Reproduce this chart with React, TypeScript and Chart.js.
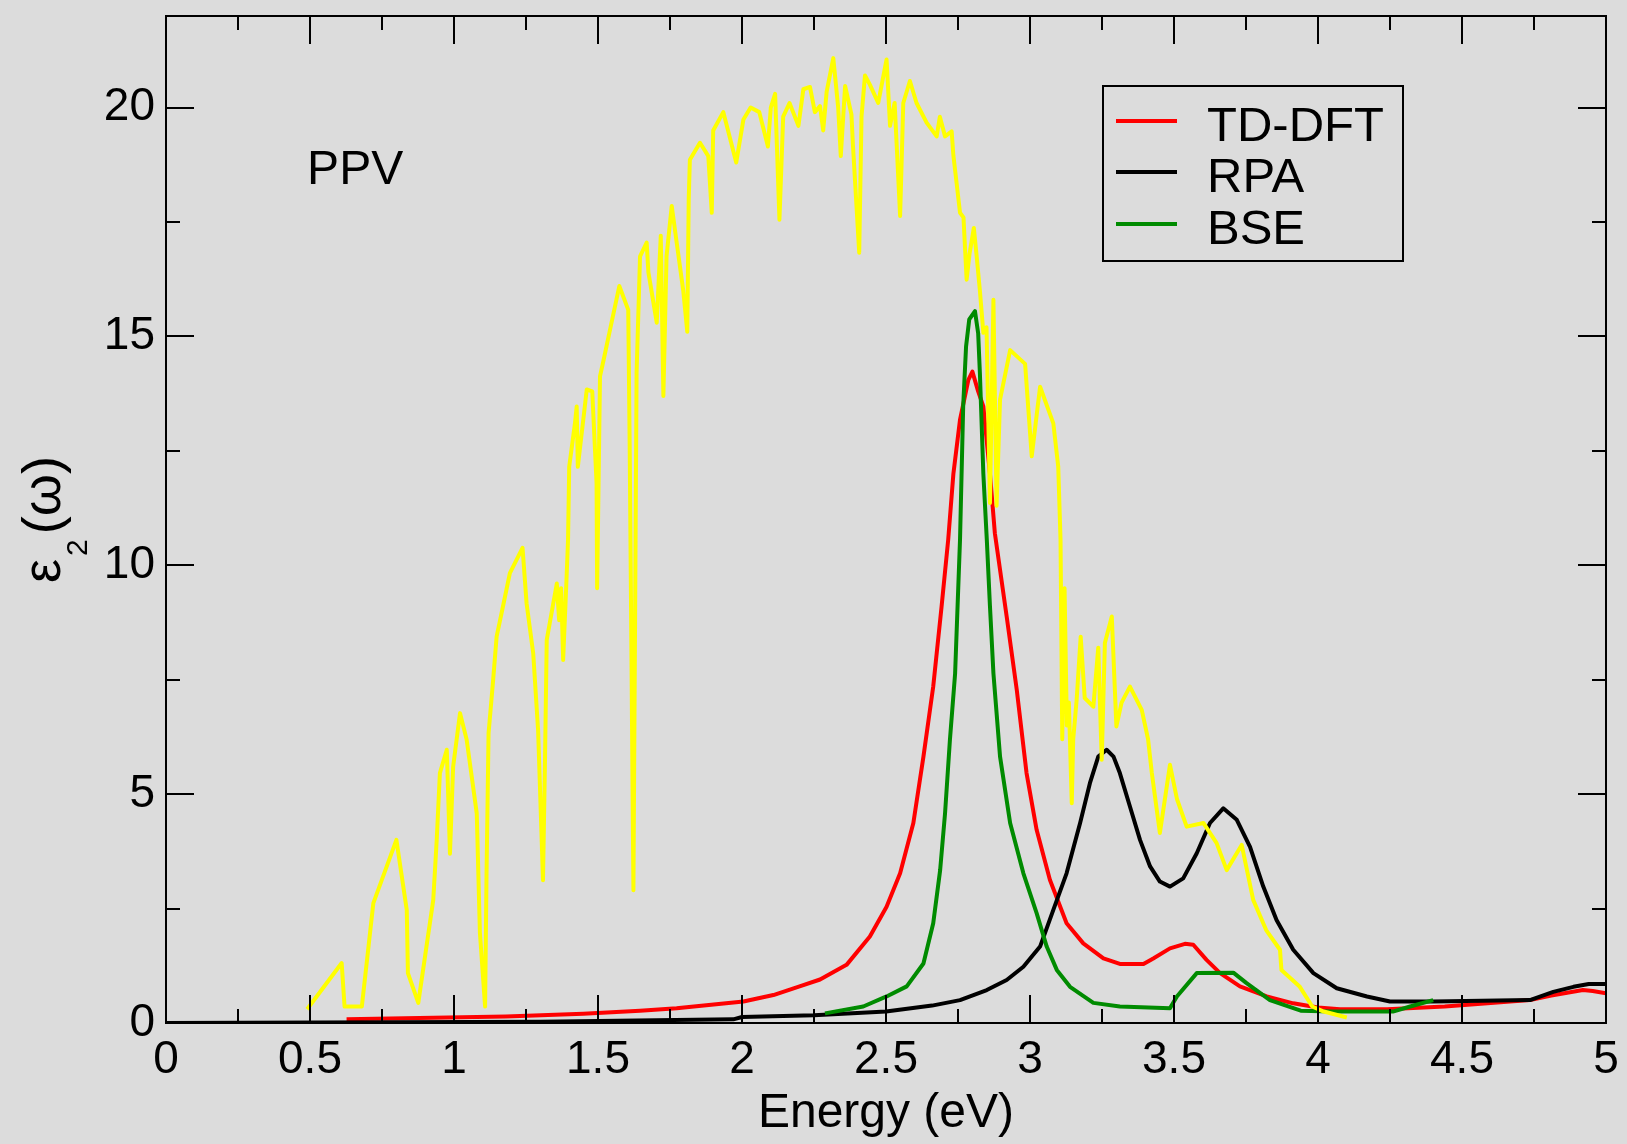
import React, { useEffect, useRef } from 'react';
import { Chart, registerables } from 'chart.js';

Chart.register(...registerables);

// ---------- tick definitions ----------
const xTickValues = [0, 0.5, 1, 1.5, 2, 2.5, 3, 3.5, 4, 4.5, 5];
const xTickLabels = ['0', '0.5', '1', '1.5', '2', '2.5', '3', '3.5', '4', '4.5', '5'];
const xMinorTicks = [0.25, 0.75, 1.25, 1.75, 2.25, 2.75, 3.25, 3.75, 4.25, 4.75];
const yTickValues = [0, 5, 10, 15, 20];
const yTickLabels = ['0', '5', '10', '15', '20'];
const yMinorTicks = [2.5, 7.5, 12.5, 17.5];

// ---------- series names ----------
const seriesNames = ['TD-DFT', 'RPA', 'BSE'];
const chartLabel = 'PPV';
const xTitle = 'Energy (eV)';

// ---------- TD-DFT (red) ----------
const tddftE = [0.627, 1.18, 1.449, 1.646, 1.773, 2.005, 2.109, 2.2, 2.271, 2.363, 2.444, 2.502, 2.549, 2.595, 2.63, 2.664, 2.693, 2.716, 2.734, 2.757, 2.786, 2.8, 2.82, 2.838, 2.861, 2.878, 2.919, 2.954, 2.988, 3.023, 3.069, 3.127, 3.185, 3.255, 3.312, 3.394, 3.428, 3.486, 3.538, 3.567, 3.613, 3.66, 3.729, 3.822, 3.914, 4.0, 4.076, 4.24, 4.44, 4.52, 4.736, 4.81, 4.92, 4.954, 5.0];
const tddftEps = [0.08, 0.14, 0.2, 0.27, 0.32, 0.47, 0.61, 0.8, 0.95, 1.27, 1.89, 2.54, 3.27, 4.37, 5.82, 7.35, 9.1, 10.56, 12.0, 13.18, 14.05, 14.23, 13.8, 13.47, 12.0, 10.7, 8.88, 7.28, 5.46, 4.22, 3.13, 2.18, 1.74, 1.41, 1.29, 1.29, 1.41, 1.63, 1.73, 1.71, 1.38, 1.09, 0.8, 0.58, 0.43, 0.34, 0.3, 0.3, 0.36, 0.4, 0.5, 0.6, 0.72, 0.7, 0.65];

// ---------- RPA (black) ----------
const rpaE = [0, 1.3, 1.97, 2.0, 2.25, 2.5, 2.66, 2.757, 2.85, 2.919, 2.977, 3.035, 3.081, 3.127, 3.174, 3.208, 3.237, 3.266, 3.29, 3.312, 3.347, 3.382, 3.417, 3.451, 3.486, 3.532, 3.579, 3.625, 3.671, 3.718, 3.764, 3.81, 3.856, 3.914, 3.984, 4.065, 4.17, 4.25, 4.4, 4.736, 4.817, 4.887, 4.94, 5.0];
const rpaEps = [0, 0.03, 0.08, 0.13, 0.17, 0.25, 0.38, 0.5, 0.72, 0.94, 1.23, 1.67, 2.47, 3.27, 4.37, 5.24, 5.82, 5.97, 5.82, 5.46, 4.73, 4.0, 3.42, 3.09, 2.98, 3.16, 3.71, 4.37, 4.69, 4.44, 3.85, 2.98, 2.25, 1.6, 1.09, 0.76, 0.58, 0.47, 0.47, 0.5, 0.68, 0.79, 0.85, 0.85];

// ---------- BSE (green) ----------
const bseE = [2.288, 2.421, 2.502, 2.572, 2.63, 2.664, 2.688, 2.705, 2.722, 2.74, 2.757, 2.768, 2.778, 2.789, 2.809, 2.82, 2.826, 2.838, 2.85, 2.861, 2.873, 2.896, 2.931, 2.977, 3.023, 3.058, 3.093, 3.139, 3.22, 3.312, 3.486, 3.51, 3.579, 3.706, 3.752, 3.833, 3.94, 4.05, 4.26, 4.32, 4.4];
const bseEps = [0.21, 0.36, 0.58, 0.8, 1.3, 2.18, 3.34, 4.58, 6.19, 7.64, 10.56, 13.47, 14.78, 15.37, 15.55, 15.07, 14.2, 12.0, 10.56, 9.1, 7.64, 5.82, 4.37, 3.27, 2.4, 1.67, 1.16, 0.79, 0.44, 0.36, 0.32, 0.58, 1.09, 1.1, 0.87, 0.5, 0.27, 0.25, 0.25, 0.36, 0.5];

// ---------- unlabeled yellow spectrum ----------
const yellowE = [0.49, 0.61, 0.62, 0.68, 0.72, 0.8, 0.836, 0.84, 0.876, 0.928, 0.94, 0.951, 0.975, 0.986, 0.997, 1.021, 1.044, 1.079, 1.09, 1.108, 1.113, 1.12, 1.136, 1.148, 1.17, 1.194, 1.238, 1.252, 1.275, 1.292, 1.309, 1.316, 1.322, 1.357, 1.365, 1.372, 1.379, 1.391, 1.396, 1.4, 1.42, 1.426, 1.43, 1.461, 1.48, 1.495, 1.497, 1.507, 1.52, 1.547, 1.574, 1.605, 1.61, 1.623, 1.634, 1.646, 1.669, 1.675, 1.704, 1.718, 1.727, 1.738, 1.756, 1.77, 1.796, 1.81, 1.815, 1.819, 1.854, 1.883, 1.895, 1.9, 1.935, 1.98, 2.005, 2.03, 2.06, 2.09, 2.1, 2.115, 2.13, 2.143, 2.165, 2.196, 2.213, 2.236, 2.253, 2.271, 2.282, 2.294, 2.317, 2.334, 2.343, 2.358, 2.38, 2.385, 2.407, 2.415, 2.427, 2.444, 2.473, 2.502, 2.514, 2.53, 2.549, 2.56, 2.583, 2.606, 2.641, 2.676, 2.687, 2.705, 2.728, 2.734, 2.745, 2.757, 2.769, 2.78, 2.79, 2.805, 2.814, 2.826, 2.838, 2.849, 2.861, 2.873, 2.884, 2.896, 2.931, 2.983, 3.006, 3.035, 3.081, 3.098, 3.106, 3.112, 3.12, 3.128, 3.135, 3.145, 3.15, 3.162, 3.176, 3.19, 3.22, 3.237, 3.249, 3.26, 3.284, 3.3, 3.318, 3.347, 3.388, 3.41, 3.423, 3.451, 3.486, 3.51, 3.544, 3.602, 3.648, 3.683, 3.735, 3.775, 3.82, 3.868, 3.873, 3.937, 3.98, 4.02, 4.1];
const yellowEps = [0.3, 1.31, 0.36, 0.36, 2.62, 4.0, 2.47, 1.09, 0.44, 2.69, 4.0, 5.46, 5.97, 3.7, 5.6, 6.77, 6.19, 4.58, 1.97, 0.36, 3.27, 6.33, 7.5, 8.44, 9.1, 9.83, 10.38, 9.17, 8.08, 6.4, 3.12, 5.75, 8.37, 9.6, 8.8, 9.5, 7.93, 9.75, 10.56, 12.15, 13.1, 13.47, 12.15, 13.84, 13.8, 11.8, 9.5, 14.13, 14.5, 15.3, 16.1, 15.58, 12.6, 2.9, 14.2, 16.75, 17.05, 16.4, 15.3, 17.2, 13.7, 16.75, 17.85, 17.2, 16.0, 15.1, 18.0, 18.86, 19.23, 18.94, 17.7, 19.5, 19.9, 18.8, 19.74, 20.0, 19.9, 19.15, 20.0, 20.3, 17.55, 19.8, 20.1, 19.6, 20.4, 20.45, 19.9, 20.03, 19.5, 20.35, 21.08, 20.0, 18.94, 20.47, 19.85, 19.2, 16.83, 19.8, 20.7, 20.5, 20.1, 21.05, 19.6, 20.1, 17.63, 20.1, 20.58, 20.1, 19.67, 19.37, 19.8, 19.37, 19.48, 18.95, 18.36, 17.7, 17.6, 16.24, 16.8, 17.37, 16.8, 16.0, 15.08, 15.2, 11.36, 15.8, 11.3, 13.62, 14.7, 14.4, 12.38, 13.9, 13.1, 12.16, 10.56, 6.2, 9.5, 6.5, 7.0, 4.8, 6.2, 7.06, 8.44, 7.1, 6.91, 8.2, 5.75, 8.3, 8.88, 6.48, 7.0, 7.35, 6.84, 6.2, 5.46, 4.15, 5.64, 4.9, 4.29, 4.37, 3.93, 3.34, 3.89, 2.69, 2.03, 1.6, 1.16, 0.79, 0.36, 0.25, 0.12];

const zip = (xs: number[], ys: number[]) => xs.map((x, i) => ({ x, y: ys[i] }));

const FONT = "'Liberation Sans', Arial, Helvetica, sans-serif";
const BG = '#dcdcdc';

const gracePlugin = {
  id: 'graceDecor',
  afterDatasetsDraw(chart: any) {
    const { ctx, chartArea: a, scales } = chart;
    const x = scales.x;
    const y = scales.y;
    ctx.save();
    ctx.strokeStyle = '#000';
    ctx.lineWidth = 2;
    ctx.lineCap = 'butt';
    ctx.beginPath();
    const major = 28;
    const minor = 14;
    const xt = (v: number, len: number) => {
      const px = Math.round(x.getPixelForValue(v));
      ctx.moveTo(px, a.bottom);
      ctx.lineTo(px, a.bottom - len);
      ctx.moveTo(px, a.top);
      ctx.lineTo(px, a.top + len);
    };
    const yt = (v: number, len: number) => {
      const py = Math.round(y.getPixelForValue(v));
      ctx.moveTo(a.left, py);
      ctx.lineTo(a.left + len, py);
      ctx.moveTo(a.right, py);
      ctx.lineTo(a.right - len, py);
    };
    xTickValues.forEach((v) => xt(v, major));
    xMinorTicks.forEach((v) => xt(v, minor));
    yTickValues.forEach((v) => yt(v, major));
    yMinorTicks.forEach((v) => yt(v, minor));
    ctx.stroke();
    ctx.strokeRect(a.left, a.top, a.right - a.left, a.bottom - a.top);
    ctx.restore();
  },
  afterDraw(chart: any) {
    const { ctx, scales } = chart;
    const x = scales.x;
    const y = scales.y;
    ctx.save();
    ctx.fillStyle = '#000';

    // PPV label
    ctx.font = `48px ${FONT}`;
    ctx.textAlign = 'left';
    ctx.textBaseline = 'alphabetic';
    ctx.fillText(chartLabel, x.getPixelForValue(0.49), y.getPixelForValue(18.34));

    // Legend
    const bx = 1103, by = 86, bw = 300, bh = 175;
    ctx.strokeStyle = '#000';
    ctx.lineWidth = 2;
    ctx.strokeRect(bx, by, bw, bh);
    const rows = [121, 172, 224];
    const legendSets = [0, 1, 2];
    legendSets.forEach((di, i) => {
      const ds = chart.data.datasets[di];
      ctx.strokeStyle = ds.borderColor;
      ctx.lineWidth = 4;
      ctx.beginPath();
      ctx.moveTo(1116, rows[i]);
      ctx.lineTo(1177, rows[i]);
      ctx.stroke();
      ctx.fillStyle = '#000';
      ctx.font = `49px ${FONT}`;
      ctx.textBaseline = 'alphabetic';
      ctx.fillText(seriesNames[i], 1207, rows[i] + 20);
    });

    // Y axis title: epsilon_2(omega), rotated
    ctx.translate(60, 583);
    ctx.rotate(-Math.PI / 2);
    ctx.fillStyle = '#000';
    ctx.textAlign = 'left';
    ctx.textBaseline = 'alphabetic';
    ctx.font = `54px ${FONT}`;
    ctx.fillText('ε', 0, 0);
    let cx = ctx.measureText('ε').width + 3;
    ctx.font = `30px ${FONT}`;
    ctx.fillText('2', cx, 27);
    cx += ctx.measureText('2').width + 5;
    ctx.font = `54px ${FONT}`;
    ctx.fillText('(ω)', cx, 0);
    ctx.restore();
  },
};

export default function App() {
  const ref = useRef<HTMLCanvasElement | null>(null);
  useEffect(() => {
    document.body.style.margin = '0';
    document.body.style.background = BG;
    const canvas = ref.current;
    if (!canvas) return;
    const chart = new Chart(canvas, {
      type: 'line',
      data: {
        datasets: [
          { label: seriesNames[0], data: zip(tddftE, tddftEps), borderColor: '#ff0000', order: 3 },
          { label: seriesNames[1], data: zip(rpaE, rpaEps), borderColor: '#000000', order: 2 },
          { label: seriesNames[2], data: zip(bseE, bseEps), borderColor: '#008b00', order: 1 },
          { label: 'spectrum', data: zip(yellowE, yellowEps), borderColor: '#ffff00', order: 0 },
        ].map((d) => ({
          ...d,
          borderWidth: 4,
          pointRadius: 0,
          tension: 0,
          fill: false,
          borderJoinStyle: 'round' as const,
        })),
      },
      options: {
        animation: false,
        responsive: false,
        devicePixelRatio: 1,
        events: [],
        layout: { padding: { left: 0, right: 21, top: 16, bottom: 0 } },
        plugins: { legend: { display: false }, tooltip: { enabled: false }, title: { display: false } },
        scales: {
          x: {
            type: 'linear',
            position: 'bottom',
            min: 0,
            max: 5,
            grid: { display: false, drawTicks: false },
            border: { display: false },
            afterBuildTicks: (s: any) => {
              s.ticks = xTickValues.map((v) => ({ value: v }));
            },
            afterFit: (s: any) => {
              s.height = 121;
              s.paddingLeft = 0;
              s.paddingRight = 0;
            },
            ticks: {
              autoSkip: false,
              maxRotation: 0,
              minRotation: 0,
              padding: 10,
              color: '#000',
              font: { family: FONT, size: 46 },
              callback: (_v: any, i: number) => xTickLabels[i],
            },
            title: {
              display: true,
              text: xTitle,
              color: '#000',
              font: { family: FONT, size: 48 },
              padding: { top: 0, bottom: 1 },
            },
          },
          y: {
            type: 'linear',
            position: 'left',
            min: 0,
            max: 22,
            grid: { display: false, drawTicks: false },
            border: { display: false },
            afterBuildTicks: (s: any) => {
              s.ticks = yTickValues.map((v) => ({ value: v }));
            },
            afterFit: (s: any) => {
              s.width = 166;
              s.paddingTop = 0;
              s.paddingBottom = 0;
            },
            ticks: {
              autoSkip: false,
              padding: 11,
              color: '#000',
              font: { family: FONT, size: 46 },
              callback: (_v: any, i: number) => yTickLabels[i],
            },
          },
        },
      },
      plugins: [gracePlugin],
    } as any);
    return () => chart.destroy();
  }, []);
  return (
    <div style={{ position: 'fixed', left: 0, top: 0, width: 1627, height: 1144, background: BG }}>
      <canvas ref={ref} width={1627} height={1144} style={{ display: 'block' }} />
    </div>
  );
}
